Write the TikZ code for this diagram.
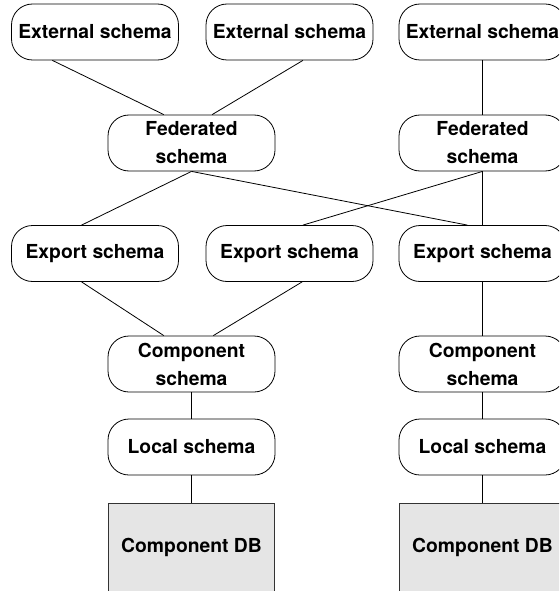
\documentclass[tikz,border=0pt]{standalone}
\usepackage{fontspec}
\setmainfont{TeX Gyre Heros}
\usetikzlibrary{calc}
\definecolor{dbfill}{HTML}{E5E5E5}
\tikzset{
  schemabox/.style={draw=black, line width=0.8pt, rounded corners=21pt,
    minimum width=167pt, minimum height=56pt, inner sep=0pt, align=center,
    font=\bfseries\fontsize{19.3}{28}\selectfont},
  dbbox/.style={draw=black!80, line width=0.8pt, fill=dbfill, anchor=north,
    minimum width=166pt, inner sep=0pt, text height=49pt, text depth=70pt,
    font=\bfseries\fontsize{19.3}{28}\selectfont},
  link/.style={draw=black, line width=0.8pt}
}
\begin{document}
\begin{tikzpicture}[x=1pt, y=-1pt]
  \useasboundingbox (0,0) rectangle (559,591);
  \clip (0,0) rectangle (559,591);

  % external schemas
  \node[schemabox] (e1) at (95,32) {External schema};
  \node[schemabox] (e2) at (289.5,32) {External schema};
  \node[schemabox] (e3) at (482.5,32) {External schema};

  % federated schemas
  \node[schemabox] (f1) at (191.5,143) {Federated\\schema};
  \node[schemabox] (f2) at (482.5,143) {Federated\\schema};

  % export schemas
  \node[schemabox] (x1) at (95,253.5) {Export schema};
  \node[schemabox] (x2) at (289.5,253.5) {Export schema};
  \node[schemabox] (x3) at (482.5,253.5) {Export schema};

  % component and local schemas
  \node[schemabox] (c1) at (191.5,364) {Component\\schema};
  \node[schemabox] (c2) at (482.5,364) {Component\\schema};
  \node[schemabox] (l1) at (191.5,447) {Local schema};
  \node[schemabox] (l2) at (482.5,447) {Local schema};

  % component databases
  \node[dbbox] (d1) at (191.5,503) {Component DB};
  \node[dbbox] (d2) at (482.5,503) {Component DB};

  % external -> federated
  \draw[link] ($(e1.south west)!0.246!(e1.south east)$) -- ($(f1.north west)!0.335!(f1.north east)$);
  \draw[link] ($(e2.south west)!0.58!(e2.south east)$) -- ($(f1.north west)!0.623!(f1.north east)$);
  \draw[link] (e3.south) -- (f2.north);

  % federated -> export
  \draw[link] (f1.south) -- ($(x1.north west)!0.42!(x1.north east)$);
  \draw[link] (f1.south) -- ($(x3.north west)!0.41!(x3.north east)$);
  \draw[link] (f2.south) -- ($(x2.north west)!0.58!(x2.north east)$);
  \draw[link] (f2.south) -- (x3.north);

  % export -> component
  \draw[link] ($(x1.south west)!0.42!(x1.south east)$) -- ($(c1.north west)!0.335!(c1.north east)$);
  \draw[link] ($(x2.south west)!0.575!(x2.south east)$) -- ($(c1.north west)!0.63!(c1.north east)$);
  \draw[link] (x3.south) -- (c2.north);

  % component -> local -> database
  \draw[link] (c1.south) -- (l1.north);
  \draw[link] (l1.south) -- (d1.north);
  \draw[link] (c2.south) -- (l2.north);
  \draw[link] (l2.south) -- (d2.north);
\end{tikzpicture}
\end{document}
